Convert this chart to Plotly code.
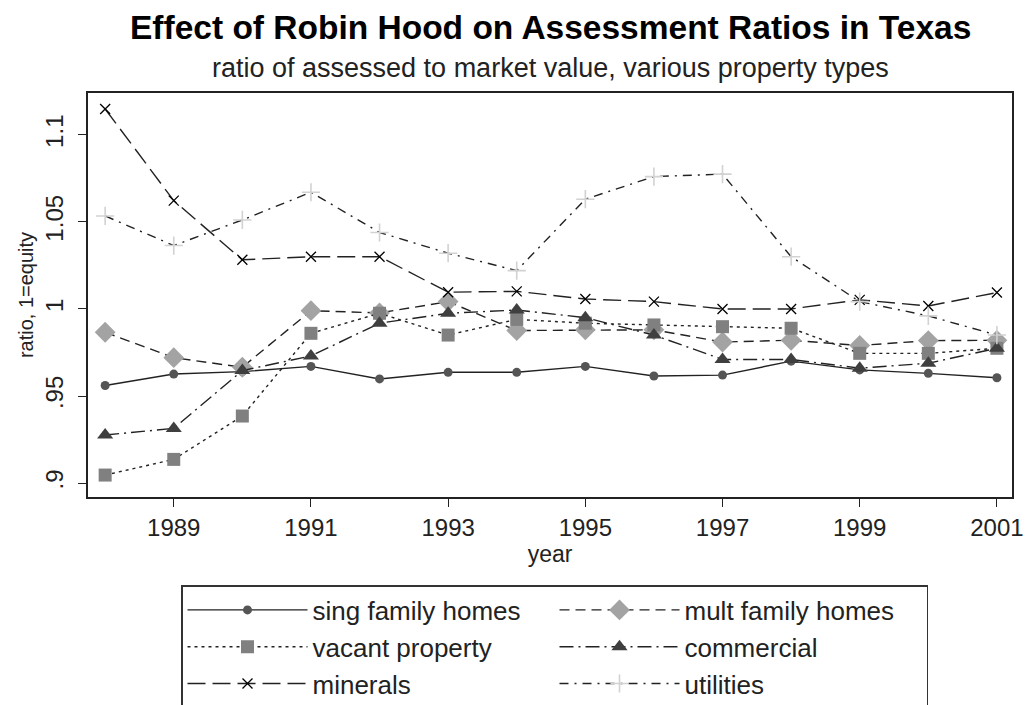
import plotly.graph_objects as go

years = list(range(1988, 2002))

sing_family = [0.956, 0.9626, 0.964, 0.967, 0.9598, 0.9636, 0.9636, 0.967, 0.9615, 0.962, 0.970, 0.965, 0.963, 0.9605]
mult_family = [0.9866, 0.972, 0.9665, 0.999, 0.9977, 1.0042, 0.9876, 0.988, 0.988, 0.981, 0.982, 0.979, 0.9818, 0.982]
vacant = [0.9046, 0.9136, 0.9385, 0.986, 0.9975, 0.985, 0.994, 0.9918, 0.9908, 0.9898, 0.9889, 0.9745, 0.9745, 0.9774]
commercial = [0.9276, 0.9314, 0.9646, 0.973, 0.9918, 0.9975, 0.9994, 0.995, 0.985, 0.971, 0.971, 0.966, 0.9688, 0.9774]
minerals = [1.1148, 1.0622, 1.0282, 1.030, 1.030, 1.0096, 1.0101, 1.0057, 1.0042, 1.000, 1.000, 1.0052, 1.0017, 1.0094]
utilities = [1.0534, 1.0364, 1.0511, 1.067, 1.0439, 1.032, 1.022, 1.063, 1.076, 1.0774, 1.030, 1.0042, 0.996, 0.985]

series_names = ["sing family homes", "mult family homes", "vacant property",
                "commercial", "minerals", "utilities"]

x_tickvals = [1989, 1991, 1993, 1995, 1997, 1999, 2001]
y_tickvals = [0.9, 0.95, 1.0, 1.05, 1.1]
y_ticktext = [".9", ".95", "1", "1.05", "1.1"]

FONT = "Liberation Sans, Arial, sans-serif"
LINE = "#222222"

styles = [
    dict(dash="solid", symbol="circle", size=9, color="#555555", mline=None),
    dict(dash="10px,6px", symbol="diamond", size=16, color="#a3a3a3", mline=None),
    dict(dash="3px,4px", symbol="square", size=13, color="#808080", mline=None),
    dict(dash="14px,5px,2px,5px", symbol="triangle-up", size=14, color="#3f3f3f", mline=None),
    dict(dash="18px,7px", symbol="x-thin-open", size=10, color="#000000", mline=1.3),
    dict(dash="9px,6px,2px,6px", symbol="cross-thin-open", size=13, color="#d2d2d2", mline=1.6),
]

data = [sing_family, mult_family, vacant, commercial, minerals, utilities]

fig = go.Figure()
for name, vals, st in zip(series_names, data, styles):
    marker = dict(symbol=st["symbol"], size=st["size"], color=st["color"])
    if st["mline"] is not None:
        marker["line"] = dict(color=st["color"], width=st["mline"])
    else:
        marker["line"] = dict(width=0)
    fig.add_trace(go.Scatter(
        x=years, y=vals, name=name, mode="lines+markers",
        line=dict(color=LINE, width=1.4, dash=st["dash"]),
        marker=marker,
    ))

fig.update_layout(
    width=1026, height=705,
    margin=dict(l=88, r=14, t=93, b=208, autoexpand=False),
    paper_bgcolor="white", plot_bgcolor="white",
    font=dict(family=FONT, color="#222222", size=22),
    showlegend=True,
    legend=dict(
        orientation="h",
        xref="container", x=181 / 1026, xanchor="left",
        yref="container", y=(705 - 585) / 705, yanchor="top",
        bordercolor="#333333", borderwidth=1.5, bgcolor="white",
        font=dict(size=26, family=FONT, color="#222222"),
        itemwidth=120, entrywidth=237, entrywidthmode="pixels",
        traceorder="normal",
    ),
    annotations=[
        dict(text="<b>Effect of Robin Hood on Assessment Ratios in Texas</b>",
             xref="paper", yref="paper", x=0.5, y=1.0, yshift=66,
             xanchor="center", yanchor="middle", showarrow=False,
             font=dict(size=33.5, family=FONT, color="#000000")),
        dict(text="ratio of assessed to market value, various property types",
             xref="paper", yref="paper", x=0.5, y=1.0, yshift=25,
             xanchor="center", yanchor="middle", showarrow=False,
             font=dict(size=27, family=FONT, color="#222222")),
    ],
)

fig.update_xaxes(
    range=[1987.75, 2001.22], tickvals=x_tickvals, automargin=False,
    ticks="outside", ticklen=8, tickwidth=1.3, tickcolor="#222222",
    showline=True, linecolor="#222222", linewidth=1.6, mirror=True,
    showgrid=False, zeroline=False,
    tickfont=dict(size=24, family=FONT, color="#222222"),
    title=dict(text="year", font=dict(size=23, family=FONT, color="#222222"), standoff=2),
)
fig.update_yaxes(
    range=[0.892, 1.124], tickvals=y_tickvals, ticktext=y_ticktext, automargin=False,
    tickangle=-90, ticklabelstandoff=6,
    ticks="outside", ticklen=8, tickwidth=1.3, tickcolor="#222222",
    showline=True, linecolor="#222222", linewidth=1.6, mirror=True,
    showgrid=False, zeroline=False,
    tickfont=dict(size=24, family=FONT, color="#222222"),
    title=dict(text="ratio, 1=equity", font=dict(size=20, family=FONT, color="#222222"), standoff=2),
)

fig.write_html(
    "out.html",
    config={"displayModeBar": False},
    post_script="document.body.style.margin='0';document.body.style.overflow='hidden';",
)
